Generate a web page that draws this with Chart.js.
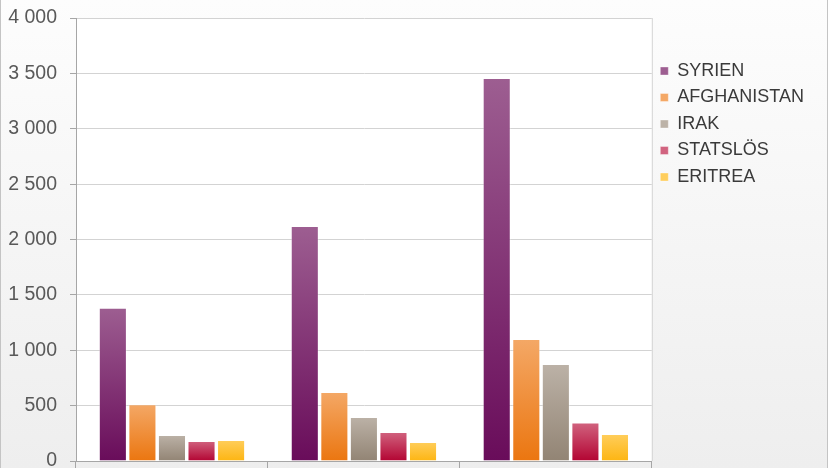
<!DOCTYPE html>
<html lang="sv">
<head>
    <meta charset="UTF-8">
    <title>Asylsökande per medborgarskap</title>
    <style>
        body {
            margin: 0;
            font-family: "Liberation Sans", Arial, sans-serif;
        }
        #chart-wrap {
            position: relative;
            width: 828px;
            height: 468px;
            background: linear-gradient(#fdfdfd, #eeeeee);
        }
        #chart-wrap::after {
            content: "";
            position: absolute;
            left: 0; top: 0; right: 0; bottom: 0;
            border-left: 1px solid #c4c4c4;
            border-right: 1px solid #c4c4c4;
            pointer-events: none;
        }
    </style>
</head>
<body>
    <div id="chart-wrap">
        <canvas id="refugeeChart" width="828" height="468"></canvas>
    </div>

    <script src="https://cdn.jsdelivr.net/npm/chart.js"></script>
    <script>
        // category labels are cut off in the original, kept hidden
        const categories = ['2012', '2013', '2014'];

        const syrien = [1384, 2122, 3458];
        const afghanistan = [513, 623, 1102];
        const irak = [235, 397, 876];
        const statslos = [181, 262, 347];
        const eritrea = [190, 172, 244];

        const yTicks = [0, 500, 1000, 1500, 2000, 2500, 3000, 3500, 4000];

        // top / middle / bottom shade for each series
        const shades = {
            syrien: ['#9d5e91', '#7b2a6c', '#690c5a'],
            afghanistan: ['#f4a866', '#ef8c34', '#eb7610'],
            irak: ['#bcb2a7', '#a5998c', '#928474'],
            statslos: ['#d1637f', '#c23557', '#b30432'],
            eritrea: ['#ffce5c', '#febf35', '#fdb512']
        };

        function barFill(c) {
            return function (ctx) {
                const chart = ctx.chart;
                const y = chart.scales && chart.scales.y;
                if (!chart.chartArea || !y || typeof ctx.raw !== 'number') return c[1];
                const top = y.getPixelForValue(ctx.raw);
                const base = y.getPixelForValue(0);
                if (!isFinite(top) || !isFinite(base) || top === base) return c[1];
                const g = chart.ctx.createLinearGradient(0, top, 0, base);
                g.addColorStop(0, c[0]);
                g.addColorStop(1, c[2]);
                return g;
            };
        }

        function fmt(v) {
            return String(v).replace(/\B(?=(\d{3})+(?!\d))/g, ' ');
        }

        const plotBg = {
            id: 'plotBg',
            beforeDraw(chart) {
                const a = chart.chartArea;
                const ctx = chart.ctx;
                ctx.save();
                ctx.fillStyle = '#ffffff';
                ctx.fillRect(a.left, a.top, a.right - a.left, a.bottom - a.top);
                ctx.strokeStyle = '#d4d4d4';
                ctx.lineWidth = 1;
                ctx.beginPath();
                ctx.moveTo(a.right + 0.5, a.top);
                ctx.lineTo(a.right + 0.5, a.bottom);
                ctx.stroke();
                ctx.restore();
            }
        };

        function series(label, data, c) {
            return {
                label: label,
                data: data,
                backgroundColor: barFill(c),
                borderColor: 'rgba(255,255,255,0.35)',
                borderWidth: 1,
                barPercentage: 0.95,
                categoryPercentage: 0.77
            };
        }

        new Chart(document.getElementById('refugeeChart'), {
            type: 'bar',
            data: {
                labels: categories,
                datasets: [
                    series('SYRIEN', syrien, shades.syrien),
                    series('AFGHANISTAN', afghanistan, shades.afghanistan),
                    series('IRAK', irak, shades.irak),
                    series('STATSLÖS', statslos, shades.statslos),
                    series('ERITREA', eritrea, shades.eritrea)
                ]
            },
            options: {
                responsive: false,
                animation: false,
                layout: {
                    padding: { left: 8, right: 14, top: 18, bottom: 0 }
                },
                plugins: {
                    tooltip: { enabled: false },
                    legend: {
                        position: 'right',
                        align: 'start',
                        title: {
                            display: true,
                            text: ' ',
                            font: { size: 10, lineHeight: 1 },
                            padding: { top: 25.5, bottom: 0 }
                        },
                        labels: {
                            boxWidth: 8,
                            boxHeight: 8,
                            padding: 8.5,
                            color: '#3a3a3a',
                            font: { family: '"Liberation Sans", Arial, sans-serif', size: 18 }
                        }
                    }
                },
                scales: {
                    x: {
                        afterFit(scale) {
                            scale.height = 7;
                            scale.paddingTop = 0;
                            scale.paddingBottom = 0;
                        },
                        grid: {
                            offset: true,
                            drawOnChartArea: false,
                            tickLength: 7,
                            color: '#a6a6a6'
                        },
                        border: { color: '#a6a6a6' },
                        ticks: { display: false }
                    },
                    y: {
                        min: 0,
                        max: 4000,
                        afterBuildTicks(scale) {
                            scale.ticks = yTicks.map(v => ({ value: v }));
                        },
                        afterFit(scale) {
                            scale.width = 68;
                            scale.paddingTop = 0;
                            scale.paddingBottom = 0;
                        },
                        grid: {
                            color: '#d3d3d3',
                            tickColor: '#a6a6a6',
                            tickLength: 6
                        },
                        border: { color: '#a6a6a6' },
                        ticks: {
                            padding: 13,
                            color: '#595959',
                            font: { family: '"Liberation Sans", Arial, sans-serif', size: 19.5 },
                            callback: v => fmt(v)
                        }
                    }
                }
            },
            plugins: [plotBg]
        });
    </script>
</body>
</html>
